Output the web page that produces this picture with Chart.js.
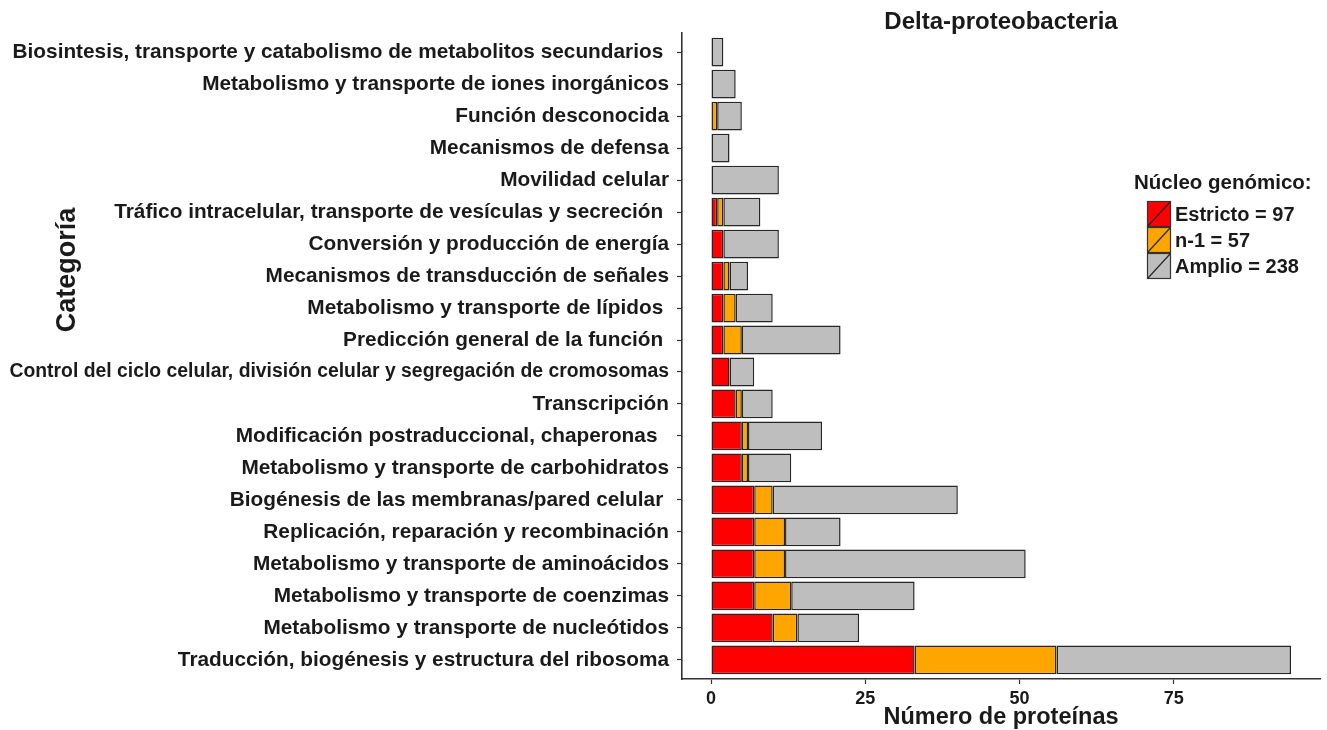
<!DOCTYPE html>
<html>
<head>
<meta charset="utf-8">
<title>Delta-proteobacteria</title>
<script src="https://cdn.jsdelivr.net/npm/chart.js@4/dist/chart.umd.min.js"></script>
<style>
  html, body { margin: 0; padding: 0; background: #ffffff; }
  #wrap { width: 1327px; height: 730px; }
</style>
</head>
<body>
<div id="wrap"><canvas id="chart" width="1327" height="730"></canvas></div>
<script>
// COG functional categories, listed top to bottom
const categories = [
  'Biosintesis, transporte y catabolismo de metabolitos secundarios ',
  'Metabolismo y transporte de iones inorgánicos',
  'Función desconocida',
  'Mecanismos de defensa',
  'Movilidad celular',
  'Tráfico intracelular, transporte de vesículas y secreción ',
  'Conversión y producción de energía',
  'Mecanismos de transducción de señales',
  'Metabolismo y transporte de lípidos ',
  'Predicción general de la función ',
  'Control del ciclo celular, división celular y segregación de cromosomas',
  'Transcripción',
  'Modificación postraduccional, chaperonas  ',
  'Metabolismo y transporte de carbohidratos',
  'Biogénesis de las membranas/pared celular ',
  'Replicación, reparación y recombinación',
  'Metabolismo y transporte de aminoácidos',
  'Metabolismo y transporte de coenzimas',
  'Metabolismo y transporte de nucleótidos',
  'Traducción, biogénesis y estructura del ribosoma'
];

// Protein counts per genomic core level
const estricto = [0, 0, 0, 0, 0, 1, 2, 2, 2, 2, 3, 4, 5, 5, 7, 7, 7, 7, 10, 33];
const nMenos1  = [0, 0, 1, 0, 0, 1, 0, 1, 2, 3, 0, 1, 1, 1, 3, 5, 5, 6, 4, 23];
const amplio   = [2, 4, 4, 3, 11, 6, 9, 3, 6, 16, 4, 5, 12, 7, 30, 9, 39, 20, 10, 38];

const seriesNames = ['Estricto', 'n-1', 'Amplio'];
const xTickValues = [0, 25, 50, 75];

const seriesColors = ['#FF0000', '#FFA500', '#BEBEBE'];
const inkColor = '#1a1a1a';
const axisColor = '#333333';
const fontFamily = '"Liberation Sans", Arial, Helvetica, sans-serif';

const seriesValues = [estricto, nMenos1, amplio];
const seriesTotals = seriesValues.map(v => v.reduce((s, x) => s + x, 0));

// Range padded like the default 5% expansion around 0..max total
const maxTotal = Math.max(...categories.map((_, i) => estricto[i] + nMenos1[i] + amplio[i]));
const pad = maxTotal * 0.05;

// Category labels shrink only when they would not fit in the left margin
const labelSize = 20.8;
const labelRoom = 660;
const measureCtx = document.createElement('canvas').getContext('2d');
measureCtx.font = 'bold ' + labelSize + 'px ' + fontFamily;
const labelSizes = categories.map(t => {
  const w = measureCtx.measureText(t).width;
  return w > labelRoom ? labelSize * labelRoom / w : labelSize;
});

const datasets = seriesNames.map((name, k) => ({
  label: name,
  data: seriesValues[k].map(v => (v === 0 ? null : v)),
  backgroundColor: seriesColors[k],
  borderColor: '#262626',
  borderWidth: 1.5,
  borderSkipped: false,
  barPercentage: 0.9,
  categoryPercentage: 1.0
}));

// Titles and the legend panel
const decor = {
  id: 'decor',
  afterDraw(chart) {
    const { ctx, chartArea: a } = chart;
    const cx = (a.left + a.right) / 2;
    ctx.save();
    ctx.fillStyle = inkColor;
    ctx.textBaseline = 'middle';
    ctx.textAlign = 'center';

    ctx.font = 'bold 24px ' + fontFamily;
    ctx.fillText('Delta-proteobacteria', cx, 22);

    ctx.font = 'bold 23.5px ' + fontFamily;
    ctx.fillText('Número de proteínas', cx, 718);

    ctx.save();
    ctx.translate(68, 270);
    ctx.rotate(-Math.PI / 2);
    ctx.font = 'bold 27px ' + fontFamily;
    ctx.fillText('Categoría', 0, 0);
    ctx.restore();

    // legend
    const lx = 1147, ly = 201, kw = 24, kh = 26;
    ctx.textAlign = 'left';
    ctx.font = 'bold 20.5px ' + fontFamily;
    ctx.fillText('Núcleo genómico:', 1134, 183);
    seriesNames.forEach((name, k) => {
      const y = ly + k * kh;
      ctx.fillStyle = seriesColors[k];
      ctx.fillRect(lx, y, kw, kh);
      ctx.strokeStyle = axisColor;
      ctx.lineWidth = 1.2;
      ctx.strokeRect(lx + 0.5, y + 0.5, kw - 1, kh - 1);
      ctx.beginPath();
      ctx.moveTo(lx + 1, y + kh - 1);
      ctx.lineTo(lx + kw - 1, y + 1);
      ctx.strokeStyle = '#262626';
      ctx.lineWidth = 1.2;
      ctx.stroke();
      ctx.fillStyle = inkColor;
      ctx.font = 'bold 20px ' + fontFamily;
      ctx.fillText(name + ' = ' + seriesTotals[k], lx + kw + 4, y + kh / 2 + 1);
    });
    ctx.restore();
  }
};

new Chart(document.getElementById('chart'), {
  type: 'bar',
  data: { labels: categories, datasets },
  options: {
    indexAxis: 'y',
    responsive: false,
    animation: false,
    devicePixelRatio: 1,
    layout: { padding: { top: 33, right: 7, left: 0, bottom: 0 } },
    plugins: {
      legend: { display: false },
      title: { display: false },
      tooltip: { enabled: false }
    },
    scales: {
      x: {
        type: 'linear',
        stacked: true,
        min: -pad,
        max: maxTotal + pad,
        afterBuildTicks(scale) {
          scale.ticks = xTickValues.map(v => ({ value: v }));
        },
        afterFit(scale) { scale.height = 51; },
        ticks: {
          color: inkColor,
          font: { family: fontFamily, size: 18, weight: 'bold' },
          padding: 4,
          maxRotation: 0,
          callback: v => String(v)
        },
        grid: {
          offset: false,
          drawOnChartArea: false,
          drawTicks: true,
          tickLength: 5,
          tickWidth: 1.2,
          tickColor: axisColor
        },
        border: { display: true, color: axisColor, width: 1.6 }
      },
      y: {
        type: 'category',
        stacked: true,
        offset: true,
        afterFit(scale) {
          scale.width = 682;
          // 0.6-category padding at both ends
          scale._startValue -= 0.1;
          scale._valueRange += 0.2;
        },
        ticks: {
          color: inkColor,
          font: c => ({ family: fontFamily, size: labelSizes[c.index] || labelSize, weight: 'bold' }),
          padding: 8,
          autoSkip: false
        },
        grid: {
          offset: false,
          drawOnChartArea: false,
          drawTicks: true,
          tickLength: 5,
          tickWidth: 1.2,
          tickColor: axisColor
        },
        border: { display: true, color: axisColor, width: 1.6 }
      }
    }
  },
  plugins: [decor]
});
</script>
</body>
</html>
